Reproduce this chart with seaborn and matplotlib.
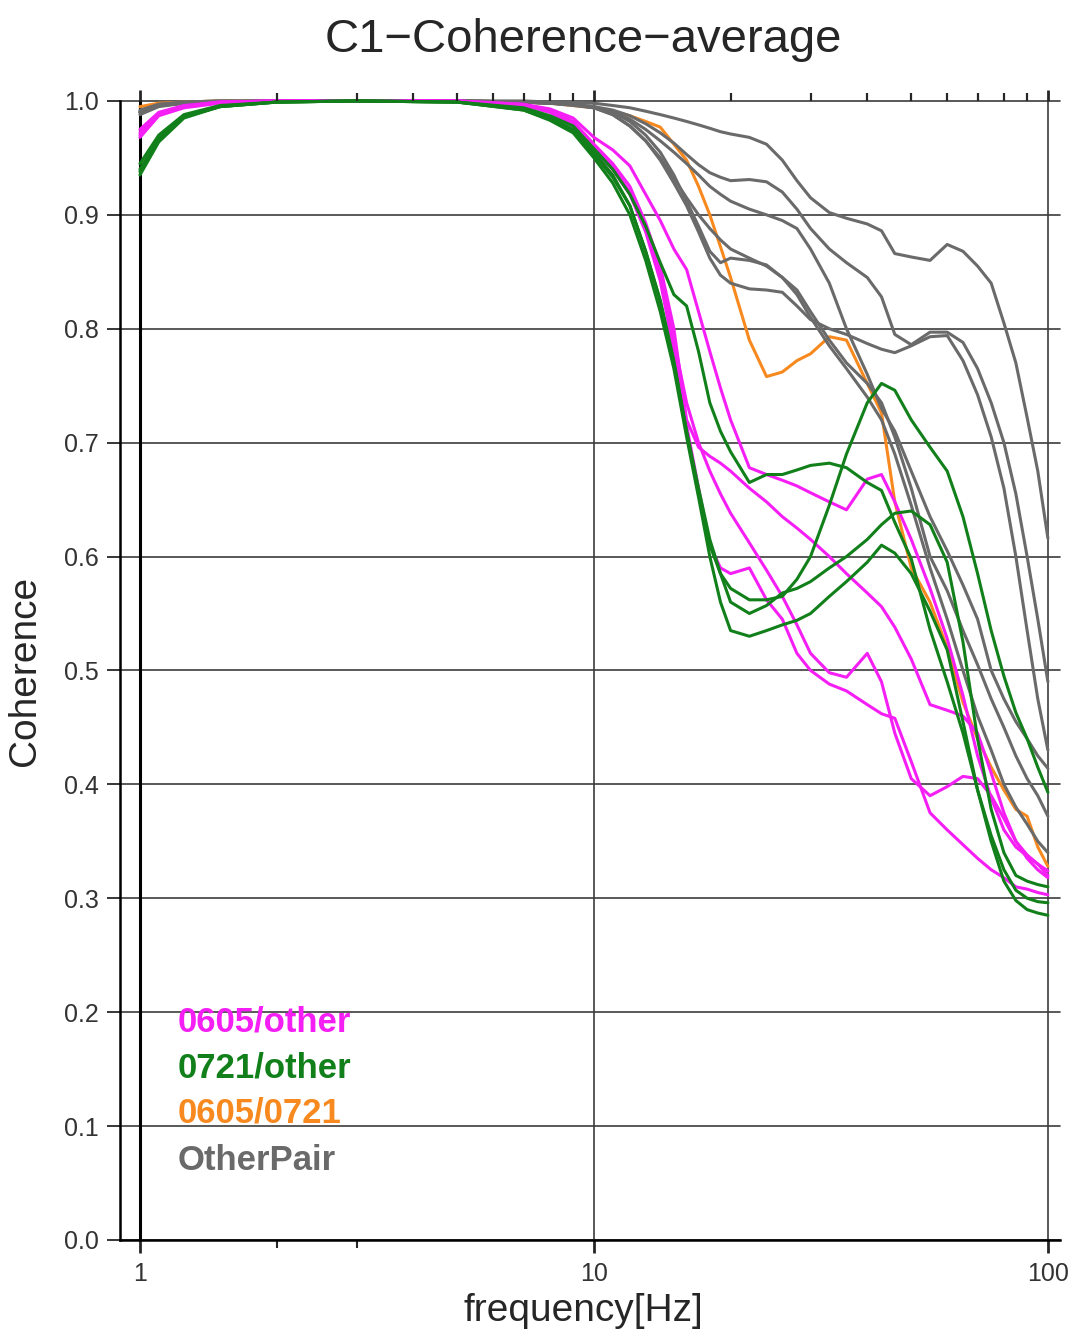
import numpy as np
import pandas as pd
import seaborn as sns
import matplotlib.pyplot as plt
from matplotlib.ticker import FixedLocator, NullFormatter

# frequency grid [Hz] shared by every curve
freq = [1, 1.1, 1.25, 1.5, 2, 3, 5, 7, 8, 9,
        10, 11, 12, 13, 14, 15, 16, 17, 18, 19,
        20, 22, 24, 26, 28, 30, 33, 36, 40, 43,
        46, 50, 55, 60, 65, 70, 75, 80, 85, 90,
        95, 100]

# 0605/other (magenta)
pair_0605_other = [
    [0.975, 0.990, 0.996, 0.999, 1.0, 1.0, 1.0, 0.997, 0.993, 0.985,
     0.968, 0.957, 0.943, 0.918, 0.895, 0.870, 0.852, 0.815, 0.780, 0.748,
     0.720, 0.678, 0.672, 0.667, 0.662, 0.656, 0.648, 0.641, 0.668, 0.672,
     0.648, 0.615, 0.572, 0.528, 0.478, 0.425, 0.388, 0.360, 0.345, 0.337,
     0.330, 0.324],
    [0.970, 0.988, 0.995, 0.999, 1.0, 1.0, 1.0, 0.997, 0.992, 0.982,
     0.962, 0.945, 0.925, 0.893, 0.855, 0.800, 0.720, 0.696, 0.688, 0.682,
     0.675, 0.660, 0.648, 0.635, 0.625, 0.615, 0.600, 0.585, 0.568, 0.556,
     0.538, 0.510, 0.470, 0.465, 0.460, 0.445, 0.410, 0.375, 0.350, 0.338,
     0.330, 0.320],
    [0.972, 0.989, 0.995, 0.999, 1.0, 1.0, 1.0, 0.996, 0.991, 0.980,
     0.960, 0.942, 0.920, 0.888, 0.848, 0.790, 0.735, 0.700, 0.675, 0.655,
     0.638, 0.612, 0.588, 0.565, 0.540, 0.515, 0.498, 0.494, 0.515, 0.490,
     0.445, 0.405, 0.390, 0.398, 0.407, 0.405, 0.390, 0.370, 0.350, 0.335,
     0.325, 0.318],
    [0.968, 0.987, 0.994, 0.998, 1.0, 1.0, 1.0, 0.996, 0.990, 0.978,
     0.958, 0.940, 0.918, 0.885, 0.842, 0.780, 0.715, 0.660, 0.610, 0.590,
     0.585, 0.590, 0.562, 0.545, 0.515, 0.500, 0.488, 0.482, 0.470, 0.462,
     0.458, 0.420, 0.375, 0.360, 0.347, 0.335, 0.325, 0.318, 0.310, 0.308,
     0.305, 0.303],
]

# 0721/other (green)
pair_0721_other = [
    [0.940, 0.967, 0.986, 0.995, 0.999, 1.0, 0.999, 0.993, 0.985, 0.975,
     0.955, 0.935, 0.908, 0.868, 0.825, 0.772, 0.710, 0.655, 0.610, 0.585,
     0.572, 0.562, 0.562, 0.565, 0.580, 0.600, 0.645, 0.690, 0.735, 0.752,
     0.746, 0.720, 0.696, 0.675, 0.635, 0.585, 0.535, 0.495, 0.463, 0.440,
     0.415, 0.393],
    [0.945, 0.970, 0.988, 0.996, 0.999, 1.0, 0.999, 0.994, 0.987, 0.978,
     0.958, 0.940, 0.918, 0.890, 0.858, 0.830, 0.820, 0.780, 0.735, 0.710,
     0.692, 0.665, 0.672, 0.672, 0.676, 0.680, 0.682, 0.678, 0.665, 0.658,
     0.630, 0.598, 0.536, 0.490, 0.445, 0.395, 0.355, 0.325, 0.307, 0.300,
     0.297, 0.296],
    [0.935, 0.964, 0.985, 0.995, 0.999, 1.0, 0.999, 0.992, 0.984, 0.973,
     0.953, 0.933, 0.908, 0.868, 0.824, 0.770, 0.710, 0.660, 0.615, 0.585,
     0.560, 0.550, 0.557, 0.568, 0.572, 0.578, 0.590, 0.600, 0.615, 0.628,
     0.638, 0.640, 0.628, 0.595, 0.525, 0.440, 0.378, 0.340, 0.320, 0.315,
     0.312, 0.310],
    [0.938, 0.966, 0.986, 0.995, 0.999, 1.0, 0.999, 0.992, 0.983, 0.972,
     0.950, 0.928, 0.900, 0.860, 0.815, 0.765, 0.705, 0.652, 0.600, 0.560,
     0.535, 0.530, 0.535, 0.540, 0.544, 0.550, 0.565, 0.578, 0.595, 0.610,
     0.603, 0.585, 0.552, 0.518, 0.455, 0.395, 0.350, 0.315, 0.298, 0.290,
     0.287, 0.285],
]

# 0605/0721 (orange)
pair_0605_0721 = [
    [0.995, 0.998, 0.999, 1.0, 1.0, 1.0, 1.0, 0.999, 0.998, 0.996,
     0.994, 0.991, 0.987, 0.982, 0.977, 0.962, 0.948, 0.925, 0.900, 0.872,
     0.845, 0.790, 0.758, 0.762, 0.772, 0.778, 0.793, 0.790, 0.752, 0.726,
     0.648, 0.590, 0.560, 0.520, 0.472, 0.440, 0.415, 0.395, 0.378, 0.372,
     0.345, 0.328],
]

# OtherPair (gray)
other_pair = [
    [0.992, 0.997, 0.999, 1.0, 1.0, 1.0, 1.0, 1.0, 0.999, 0.999,
     0.998, 0.996, 0.994, 0.991, 0.988, 0.985, 0.982, 0.979, 0.976, 0.973,
     0.971, 0.968, 0.962, 0.948, 0.930, 0.915, 0.902, 0.897, 0.892, 0.886,
     0.866, 0.863, 0.860, 0.874, 0.868, 0.855, 0.840, 0.805, 0.770, 0.722,
     0.675, 0.616],
    [0.990, 0.996, 0.998, 0.999, 1.0, 1.0, 1.0, 0.999, 0.998, 0.997,
     0.995, 0.992, 0.987, 0.980, 0.972, 0.963, 0.953, 0.944, 0.937, 0.933,
     0.930, 0.931, 0.929, 0.920, 0.905, 0.888, 0.870, 0.858, 0.845, 0.828,
     0.795, 0.786, 0.797, 0.797, 0.788, 0.765, 0.735, 0.700, 0.655, 0.600,
     0.545, 0.490],
    [0.988, 0.995, 0.998, 0.999, 1.0, 1.0, 1.0, 0.999, 0.998, 0.997,
     0.994, 0.988, 0.978, 0.965, 0.948, 0.928, 0.908, 0.885, 0.862, 0.847,
     0.840, 0.835, 0.834, 0.832, 0.820, 0.808, 0.800, 0.795, 0.787, 0.782,
     0.779, 0.785, 0.793, 0.794, 0.772, 0.742, 0.705, 0.660, 0.600, 0.535,
     0.475, 0.430],
    [0.990, 0.996, 0.998, 0.999, 1.0, 1.0, 1.0, 0.999, 0.998, 0.997,
     0.994, 0.990, 0.982, 0.970, 0.955, 0.935, 0.912, 0.890, 0.868, 0.858,
     0.862, 0.860, 0.856, 0.845, 0.834, 0.815, 0.790, 0.770, 0.752, 0.735,
     0.705, 0.660, 0.600, 0.570, 0.535, 0.505, 0.475, 0.450, 0.425, 0.405,
     0.390, 0.372],
    [0.991, 0.997, 0.999, 1.0, 1.0, 1.0, 1.0, 0.999, 0.998, 0.997,
     0.995, 0.990, 0.984, 0.975, 0.965, 0.955, 0.945, 0.935, 0.925, 0.918,
     0.912, 0.905, 0.900, 0.895, 0.888, 0.870, 0.840, 0.800, 0.760, 0.730,
     0.710, 0.675, 0.635, 0.605, 0.575, 0.545, 0.500, 0.475, 0.455, 0.440,
     0.425, 0.414],
    [0.990, 0.996, 0.998, 0.999, 1.0, 1.0, 1.0, 0.999, 0.998, 0.996,
     0.994, 0.988, 0.978, 0.965, 0.950, 0.932, 0.915, 0.900, 0.888, 0.878,
     0.870, 0.862, 0.855, 0.845, 0.830, 0.810, 0.785, 0.765, 0.740, 0.720,
     0.690, 0.645, 0.590, 0.545, 0.500, 0.460, 0.430, 0.400, 0.380, 0.365,
     0.350, 0.340],
]

y_ticks = [0.0, 0.1, 0.2, 0.3, 0.4, 0.5, 0.6, 0.7, 0.8, 0.9, 1.0]
x_major = [1, 10, 100]
x_minor_top = [2, 3, 4, 5, 6, 7, 8, 9, 20, 30, 40, 50, 60, 70, 80, 90]
x_minor_bottom = [2, 3]

colors = {
    "0605/other": "#f51ef5",
    "0721/other": "#12801a",
    "0605/0721": "#f7891f",
    "OtherPair": "#6a6a6a",
}
# drawing order: orange under gray, colored groups on top
draw_order = ["0605/0721", "OtherPair", "0605/other", "0721/other"]
legend_order = ["0605/other", "0721/other", "0605/0721", "OtherPair"]

series = {
    "0605/other": pair_0605_other,
    "0721/other": pair_0721_other,
    "0605/0721": pair_0605_0721,
    "OtherPair": other_pair,
}

rows = []
for name in draw_order:
    for k, curve in enumerate(series[name]):
        for f, c in zip(freq, curve, strict=True):
            rows.append((name, f"{name}-{k}", f, c))
df = pd.DataFrame(rows, columns=["group", "pair", "freq", "coherence"])

sns.set_style("white")
plt.rcParams["font.family"] = ["Liberation Sans", "DejaVu Sans"]

fig = plt.figure(figsize=(10.75, 13.37), dpi=100)
ax = fig.add_axes([0.1116, 0.0726, 0.8744, 0.8519])

xlo, xhi = 0.9036, 106.3

# grid
for y in y_ticks:
    ax.axhline(y, color="#3c3c3c", lw=1.2, zorder=0.5)
ax.axvline(10, color="#3c3c3c", lw=1.2, zorder=0.5)
ax.axvline(100, color="#3c3c3c", lw=1.2, zorder=0.5)
ax.axvline(1, color="black", lw=2.2, zorder=0.5)

sns.lineplot(data=df, x="freq", y="coherence", hue="group", units="pair",
             estimator=None, hue_order=draw_order, palette=colors,
             legend=False, sort=False, lw=2.2, ax=ax)

ax.set_xscale("log")
ax.set_xlim(xlo, xhi)
ax.set_ylim(0, 1.0)
for ln in ax.get_lines():
    ln.set_clip_on(False)

for s in ["top", "right"]:
    ax.spines[s].set_visible(False)
for s in ["left", "bottom"]:
    ax.spines[s].set_color("black")
    ax.spines[s].set_linewidth(1.8)

ax.set_yticks(y_ticks)
ax.set_yticklabels([f"{v:.1f}" for v in y_ticks])
ax.tick_params(axis="y", direction="out", length=9.5, width=1.3,
               labelsize=18, pad=6, labelcolor="#333333", left=True)

ax.xaxis.set_major_locator(FixedLocator(x_major))
ax.xaxis.set_minor_locator(FixedLocator(x_minor_bottom))
ax.xaxis.set_minor_formatter(NullFormatter())
ax.set_xticklabels(["1", "10", "100"])
ax.tick_params(axis="x", which="major", direction="out", length=9, width=2,
               labelsize=18, pad=7, labelcolor="#333333", bottom=True)
ax.tick_params(axis="x", which="minor", direction="out", length=6, width=1.5,
               bottom=True)

# ticks along the top edge
top = ax.twiny()
top.set_xscale("log")
top.set_xlim(xlo, xhi)
top.xaxis.set_major_locator(FixedLocator(x_major))
top.xaxis.set_minor_locator(FixedLocator(x_minor_top))
top.xaxis.set_major_formatter(NullFormatter())
top.xaxis.set_minor_formatter(NullFormatter())
top.tick_params(axis="x", which="major", direction="out", length=8, width=2)
top.tick_params(axis="x", which="minor", direction="out", length=6, width=1.6)
for s in top.spines.values():
    s.set_visible(False)

# group labels drawn as colored text
label_y = [0.191, 0.151, 0.1115, 0.070]
for name, yy in zip(legend_order, label_y):
    ax.text(1.21, yy, name, color=colors[name], fontsize=25,
            fontweight="bold", va="center", ha="left")

ax.set_title("C1\u2212Coherence\u2212average", fontsize=34, y=1.043, pad=0,
             x=0.4926)
ax.set_xlabel("frequency[Hz]", fontsize=28)
ax.xaxis.set_label_coords(0.4926, -0.047)
ax.set_ylabel("Coherence", fontsize=28)
ax.yaxis.set_label_coords(-0.082, 0.5)

fig.savefig("out.png", dpi=100)
